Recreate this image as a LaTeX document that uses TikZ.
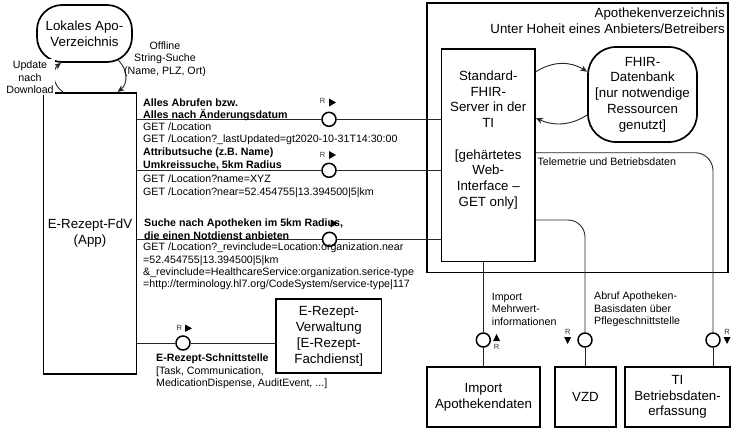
\documentclass[tikz,border=0pt]{standalone}
\usepackage{fontspec}
\setmainfont{Liberation Sans}
\usetikzlibrary{arrows.meta}
\newcommand\fntM{\fontsize{13.3}{15.7}\selectfont}
\newcommand\fntS{\fontsize{10.65}{12.3}\selectfont}
\newcommand\fntT{\fontsize{7.5}{8}\selectfont}
\begin{document}
\begin{tikzpicture}[x=1pt,y=-1pt,
  box/.style={draw, line width=1.7pt, fill=white, inner sep=0pt, align=center, font=\fntM},
  conn/.style={draw=black!85, line width=0.9pt},
  iface/.style={circle, draw, line width=1.5pt, fill=white, minimum size=14pt, inner sep=0pt},
  txt/.style={inner sep=0pt, align=left, font=\fntS, anchor=north west},
  rlab/.style={inner sep=0pt, font=\fntT, text=black!80},
  arr/.style={conn, -{Stealth[length=7pt,width=6pt]}}]
\useasboundingbox (0,0) rectangle (735,437);

% big container
\node[box, line width=1.3pt, minimum width=301pt, minimum height=269.5pt] (big) at (577.5,137.75) {};
\node[inner sep=0pt, align=right, font=\fntM, anchor=north east] (bigl) at (725,7.6)
  {Apothekenverzeichnis\\Unter Hoheit eines Anbieters/Betreibers};

% boxes
\node[box, rounded corners=25pt, minimum width=95pt, minimum height=57pt] (lok) at (84.5,33.5) {Lokales Apo-\\Verzeichnis};
\node[box, minimum width=93pt, minimum height=281pt] (fdv) at (90,233.3) {E-Rezept-FdV\\(App)};
\node[box, minimum width=93.5pt, minimum height=212.5pt] (srv) at (488.25,155.25) {};
\node[inner sep=0pt, align=center, font=\fntM, anchor=north] (srvt) at (488.25,70.7)
  {Standard-\\FHIR-\\Server in der\\TI\\\mbox{}\\{[}gehärtetes\\Web-\\Interface –\\GET only]};
\node[box, rounded corners=28pt, minimum width=109pt, minimum height=95pt] (db) at (642.5,94.5)
  {FHIR-\\Datenbank\\{[}nur notwendige\\Ressourcen\\genutzt]};
\node[box, minimum width=105.5pt, minimum height=74pt] (erz) at (328.75,336.3)
  {E-Rezept-\\Verwaltung\\{[}E-Rezept-\\Fachdienst]};
\node[box, minimum width=113pt, minimum height=60pt] (imp) at (483.5,397) {Import\\Apothekendaten};
\node[box, minimum width=61pt, minimum height=60pt] (vzd) at (585.5,397) {VZD};
\node[box, minimum width=105pt, minimum height=60pt] (ti) at (677.5,397) {TI\\Betriebsdaten-\\erfassung};

% helper coordinates
\coordinate (y1) at (0,119.3);
\coordinate (y2) at (0,170.3);
\coordinate (y3) at (0,239.3);
\coordinate (yt) at (0,152.7);
\coordinate (yv) at (0,220);
\coordinate (a1) at (0,71.7);
\coordinate (a2) at (0,115);
\coordinate (a3) at (0,118);
\coordinate (c1) at (63,0);
\coordinate (c4) at (117.5,0);

% interfaces
\node[iface] (i1) at (329,119.3) {};
\node[iface] (i2) at (329,170.3) {};
\node[iface] (i3) at (329.5,239.3) {};
\node[iface] (i4) at (183,343) {};
\node[iface] (i5) at (483.3,340) {};
\node[iface] (i6) at (585,340) {};
\node[iface] (i7) at (713,340) {};

% connectors
\draw[conn] (y1 -| fdv.east) -- (i1) -- (y1 -| srv.west);
\draw[conn] (y2 -| fdv.east) -- (i2) -- (y2 -| srv.west);
\draw[conn] (y3 -| fdv.east) -- (i3) -- (y3 -| srv.west);
\draw[conn] (fdv.east |- i4) -- (i4) -- (erz.west |- i4);
\draw[conn] (srv.south -| i5) -- (i5) -- (imp.north -| i5);
\draw[conn, rounded corners=17pt] (yv -| srv.east) -- (yv -| i6) -- (i6);
\draw[conn] (i6) -- (i6 |- vzd.north);
\draw[conn, rounded corners=18pt] (yt -| srv.east) -- (yt -| i7) -- (i7);
\draw[conn] (i7) -- (i7 |- ti.north);

% server <-> database
\draw[arr] (srv.east |- a1) .. controls (553,61) and (570,61) .. (db.west |- a1);
\draw[arr] (db.west |- a2) .. controls (570,126) and (553,126) .. (srv.east |- a3);

% local directory loops
\draw[arr] (c1 |- fdv.north) .. controls (52,85) and (52,70) .. ([xshift=-23.5pt]lok.south);
\draw[arr] ([xshift=34pt,yshift=2.5pt]lok.south) .. controls (128,70) and (128,84) .. (c4 |- fdv.north);

% labels
\node[inner sep=1.5pt, fill=white, align=center, font=\fontsize{10.65}{12.6}\selectfont, anchor=north] (upd) at (30,59.2) {Update\\nach\\Download};
\node[inner sep=0pt, align=center, font=\fntS, anchor=north] (offl) at (165,41.6) {Offline\\String-Suche\\(Name, PLZ, Ort)};

\node[txt, font=\fntS\bfseries] (h1) at (143,98.3) {Alles Abrufen bzw.\\Alles nach Änderungsdatum};
\node[txt] (g1) at (143,122.3) {GET /Location\\GET /Location?\_lastUpdated=gt2020-10-31T14:30:00};
\node[txt, font=\fntS\bfseries] (h2) at (143,148) {Attributsuche (z.B. Name)\\Umkreissuche, 5km Radius};
\node[txt] (g2) at (143,175) {GET /Location?name=XYZ\\GET /Location?near=52.454755|13.394500|5|km};
\node[txt, font=\fntS\bfseries] (h3) at (144,219) {Suche nach Apotheken im 5km Radius,\\die einen Notdienst anbieten};
\node[txt] (g3) at (143,243) {GET /Location?\_revinclude=Location:organization.near\\=52.454755|13.394500|5|km\\\&\_revinclude=HealthcareService:organization.serice-type\\=http://terminology.hl7.org/CodeSystem/service-type|117};
\node[txt] (es) at (156,353.8) {\textbf{E-Rezept-Schnittstelle}\\{[}Task, Communication,\\MedicationDispense, AuditEvent, ...]};
\node[txt] (tel) at (537.3,157.4) {Telemetrie und Betriebsdaten};
\node[txt] (impl) at (491.7,293) {Import\\Mehrwert-\\informationen};
\node[txt] (abl) at (594,291.8) {Abruf Apotheken-\\Basisdaten über\\Pflegeschnittstelle};

% R markers
\node[rlab] (r1) at (322.7,101) {R};
\fill (329,98.5) -- (336,102.5) -- (329,106.5) -- cycle;
\node[rlab] (r2) at (322.7,155) {R};
\fill (329,151) -- (336,155) -- (329,159) -- cycle;
\fill (330.5,219.5) -- (337.5,223.5) -- (330.5,227.5) -- cycle;
\node[rlab] (r4) at (179.3,328.3) {R};
\fill (185,324.5) -- (192,328.3) -- (185,332) -- cycle;
\node[rlab] (r5) at (496.5,346.5) {R};
\fill (493,341) -- (496.5,334) -- (500,341) -- cycle;
\node[rlab] (r6) at (567.7,331.7) {R};
\fill (564.2,337) -- (571.2,337) -- (567.7,344) -- cycle;
\node[rlab] (r7) at (727,331.7) {R};
\fill (723.5,337) -- (730.5,337) -- (727,344) -- cycle;
\end{tikzpicture}
\end{document}
